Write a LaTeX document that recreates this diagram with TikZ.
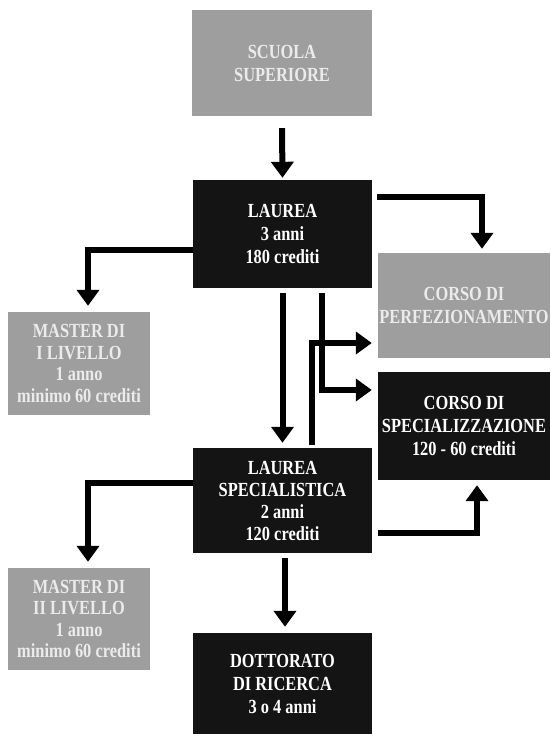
\documentclass[tikz,border=0pt]{standalone}
\usepackage{fontspec}
\setmainfont{Liberation Serif}[FakeStretch=0.82]
\usetikzlibrary{arrows.meta}
\definecolor{darkfill}{HTML}{141414}
\definecolor{greyfill}{HTML}{9E9E9E}
\begin{document}
\begin{tikzpicture}[x=1pt,y=-1pt,
  boxtext/.style={align=center,inner sep=0pt,font=\fontsize{20}{23}\selectfont\bfseries,text=white},
  darkbox/.style={boxtext,fill=darkfill},
  greybox/.style={boxtext,fill=greyfill,text=white!92!black},
  arr/.style={line width=6pt,-{Triangle[width=22pt,length=16pt]}}]
\useasboundingbox[fill=white] (0,0) rectangle (550,734);
\node[greybox,minimum width=180pt,minimum height=106pt] (scuola) at (282,63) {SCUOLA\\SUPERIORE};
\node[darkbox,minimum width=179pt,minimum height=108pt] (laurea) at (282.5,234) {LAUREA\\3 anni\\180 crediti};
\node[greybox,minimum width=172pt,minimum height=105pt] (perf) at (464,305.5) {CORSO DI\\PERFEZIONAMENTO};
\node[greybox,minimum width=142pt,minimum height=103pt,font=\fontsize{20}{21.5}\selectfont\bfseries] (master1) at (79,363.5) {MASTER DI\\I LIVELLO\\1 anno\\minimo 60 crediti};
\node[darkbox,minimum width=172pt,minimum height=108pt] (spec) at (464,426) {CORSO DI\\SPECIALIZZAZIONE\\120 - 60 crediti};
\node[darkbox,minimum width=179pt,minimum height=105pt,font=\fontsize{20}{22}\selectfont\bfseries] (lspec) at (282.5,500.5) {LAUREA\\SPECIALISTICA\\2 anni\\120 crediti};
\node[greybox,minimum width=142pt,minimum height=102pt,font=\fontsize{20}{21.5}\selectfont\bfseries] (master2) at (79,619) {MASTER DI\\II LIVELLO\\1 anno\\minimo 60 crediti};
\node[darkbox,minimum width=179pt,minimum height=101pt] (dott) at (282.5,683.5) {DOTTORATO\\DI RICERCA\\3 o 4 anni};

\draw[arr] ([yshift=-12pt]scuola.south) -- ([yshift=2pt]laurea.north);
\draw[arr] ([xshift=5pt,yshift=-17pt]laurea.north east) -| ([xshift=18pt,yshift=4pt]perf.north);
\draw[arr] ([yshift=-16pt]laurea.west) -| ([xshift=9pt,yshift=6pt]master1.north);
\draw[arr] ([yshift=-5pt]laurea.south) -- ([yshift=5pt]lspec.north);
\draw[arr] ([xshift=39.5pt,yshift=-5pt]laurea.south) |- ([xshift=-6pt,yshift=36pt]spec.west);
\draw[arr] ([xshift=29.5pt,yshift=3pt]lspec.north) |- ([xshift=-6pt,yshift=-37.5pt]perf.west);
\draw[arr] ([yshift=17.5pt]lspec.west) -| ([xshift=9pt,yshift=6pt]master2.north);
\draw[arr] ([xshift=2.5pt,yshift=-5pt]lspec.south) -- ([xshift=2.5pt,yshift=6pt]dott.north);
\draw[arr] ([xshift=6pt,yshift=-32.5pt]lspec.east) -| ([xshift=13pt,yshift=-5pt]spec.south);
\end{tikzpicture}
\end{document}
